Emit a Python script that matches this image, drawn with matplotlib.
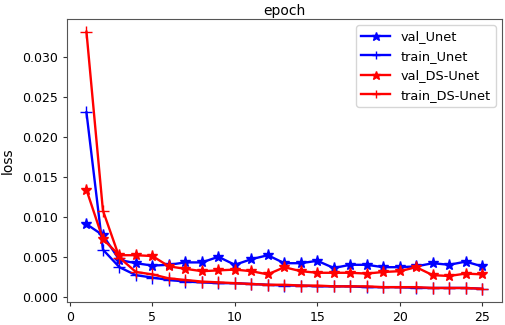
import numpy as np
import matplotlib
matplotlib.use('Agg')
import matplotlib.pyplot as plt

# loss per epoch
epochs = list(range(1, 26))
val_unet = [0.0091, 0.0077, 0.0046, 0.0042, 0.0039, 0.0040, 0.0043, 0.0043, 0.0050, 0.0040,
            0.0047, 0.0052, 0.0042, 0.0042, 0.0045, 0.0036, 0.0040, 0.0040, 0.0037, 0.0037,
            0.0038, 0.0042, 0.0040, 0.0044, 0.0038]
train_unet = [0.0231, 0.0059, 0.0037, 0.0027, 0.0024, 0.0021, 0.0019, 0.0018, 0.0017, 0.0017,
              0.0016, 0.0015, 0.0014, 0.0014, 0.0013, 0.0013, 0.0013, 0.0012, 0.0012, 0.0012,
              0.0011, 0.0011, 0.0011, 0.0011, 0.0010]
val_ds = [0.0134, 0.0072, 0.0052, 0.0052, 0.0051, 0.0038, 0.0035, 0.0032, 0.0033, 0.0034,
          0.0032, 0.0028, 0.0037, 0.0032, 0.0030, 0.0030, 0.0030, 0.0029, 0.0031, 0.0032,
          0.0037, 0.0027, 0.0026, 0.0029, 0.0028]
train_ds = [0.0332, 0.0108, 0.0049, 0.0031, 0.0028, 0.0023, 0.0021, 0.0019, 0.0018, 0.0017,
            0.0016, 0.0015, 0.0015, 0.0014, 0.0014, 0.0013, 0.0013, 0.0013, 0.0012, 0.0012,
            0.0012, 0.0011, 0.0011, 0.0011, 0.0010]

fig = plt.figure(figsize=(5.05, 3.25), dpi=100)
ax = fig.add_axes([0.132, 0.072, 0.862, 0.870])

ax.plot(epochs, val_unet, color='blue', marker='*', markersize=8, lw=1.7, label='val_Unet')
ax.plot(epochs, train_unet, color='blue', marker='+', markersize=8, lw=1.7, label='train_Unet')
ax.plot(epochs, val_ds, color='red', marker='*', markersize=8, lw=1.7, label='val_DS-Unet')
ax.plot(epochs, train_ds, color='red', marker='+', markersize=8, lw=1.7, label='train_DS-Unet')

ax.set_title('epoch', fontsize=10, pad=3)
ax.set_ylabel('loss', fontsize=10, labelpad=5)
ax.set_xticks([0, 5, 10, 15, 20, 25])
ax.tick_params(labelsize=9, length=3, width=0.8, colors='#333333', labelcolor='black')
for s in ax.spines.values():
    s.set_color('#555555')
ax.legend(loc='upper right', fontsize=9.3, handlelength=2.2, markerscale=0.8)

plt.savefig('out.png', dpi=100)
